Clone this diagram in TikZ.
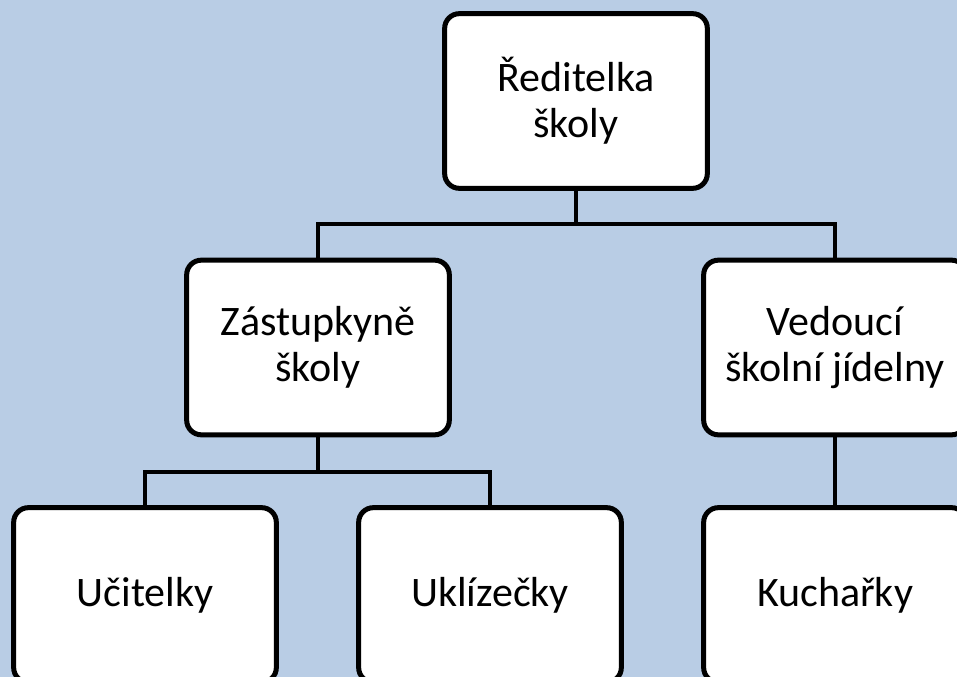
\documentclass[tikz,border=0pt]{standalone}
\usepackage{fontspec}
\setmainfont{Carlito}
\definecolor{bgblue}{HTML}{B9CDE5}

\tikzstyle{box} = [draw=black, fill=white, line width=3.75pt, rounded corners=11pt, minimum width=197pt, minimum height=131pt, align=center, inner sep=0pt, font=\fontsize{31.5}{34.5}\selectfont]
\tikzstyle{link} = [draw=black, line width=3pt]

\begin{document}
\begin{tikzpicture}[x=0.75pt, y=-0.75pt]
      \clip (0,0) rectangle (957,677);
      \fill[bgblue] (0,0) rectangle (957,677);
      \coordinate (fork1) at (576,224);
      \coordinate (fork2) at (318,472);
      \node[box] (dir) at (576,101) {Ředitelka\\školy};
      \node[box] (zast) at (318,347.5) {Zástupkyně\\školy};
      \node[box] (ved) at (835,347.5) {Vedoucí\\školní jídelny};
      \node[box] (uc) at (145,595) {Učitelky};
      \node[box] (ukl) at (490,595) {Uklízečky};
      \node[box] (kuch) at (835,595) {Kuchařky};
      \draw[link] (dir.south) -- (fork1);
      \draw[link] (zast.north) |- (fork1) -| (ved.north);
      \draw[link] (zast.south) -- (fork2);
      \draw[link] (uc.north) |- (fork2) -| (ukl.north);
      \draw[link] (ved.south) -- (kuch.north);
    \end{tikzpicture}
\end{document}
